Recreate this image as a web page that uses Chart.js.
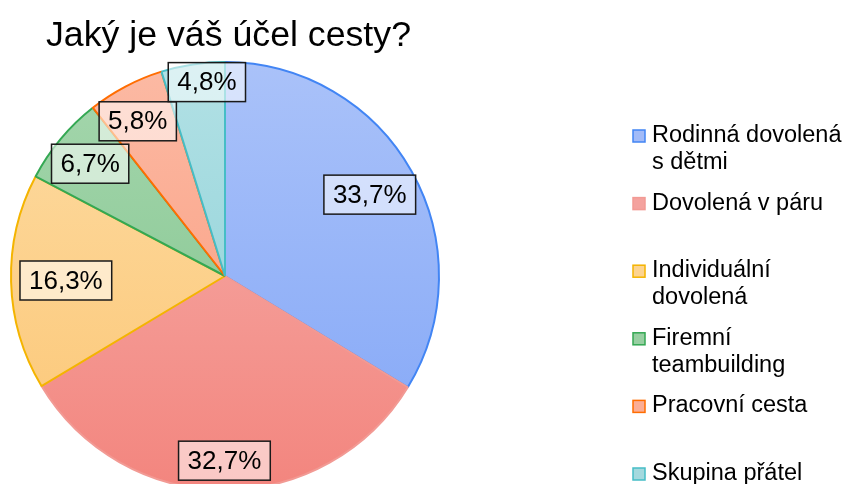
<!DOCTYPE html>
<html>
<head>
<meta charset="utf-8">
<title>Jaký je váš účel cesty?</title>
<script src="https://cdn.jsdelivr.net/npm/chart.js@4/dist/chart.umd.min.js"></script>
<style>
    html, body { margin: 0; padding: 0; background: #fff; overflow: hidden; }
    #wrap { width: 846px; height: 484px; overflow: hidden; position: relative; }
    canvas { display: block; }
</style>
</head>
<body>
<div id="wrap"><canvas id="purpose-chart" width="846" height="560"></canvas></div>
<script>
(function () {
    'use strict';

    var chartTitle = 'Jaký je váš účel cesty?';
    var categories = [
        'Rodinná dovolená s dětmi',
        'Dovolená v páru',
        'Individuální dovolená',
        'Firemní teambuilding',
        'Pracovní cesta',
        'Skupina přátel'
    ];
    var shares = [33.7, 32.7, 16.3, 6.7, 5.8, 4.8];

    var FONT = '"Liberation Sans", Arial, sans-serif';

    // top / bottom colours of the vertical fill gradient, plus the edge colour
    var fillTop = ['#aac2f9', '#f6b2ae', '#fddca4', '#a6d7ae', '#fcbaa4', '#b2e1e5'];
    var fillBottom = ['#82a6f7', '#f3857e', '#fcc674', '#7ec28a', '#f9987a', '#88ced5'];
    var edgeColors = ['#4285f4', '#f29a94', '#f4b400', '#34a853', '#ff6d01', '#46bdc6'];
    var markerFill = ['#a2bbf8', '#f4a29e', '#fdd490', '#98cfa2', '#fbae96', '#a4d9de'];

    function pieFill(context) {
        var chart = context.chart;
        var area = chart.chartArea;
        if (!area) {
            return fillTop[context.dataIndex];
        }
        var g = chart.ctx.createLinearGradient(0, area.top, 0, area.bottom);
        g.addColorStop(0, fillTop[context.dataIndex]);
        g.addColorStop(1, fillBottom[context.dataIndex]);
        return g;
    }

    function formatShare(v) {
        return v.toFixed(1).replace('.', ',') + '%';
    }

    function wrapText(ctx, text, maxWidth) {
        var words = text.split(' ');
        var lines = [];
        var line = '';
        words.forEach(function (w) {
            var test = line ? line + ' ' + w : w;
            if (line && ctx.measureText(test).width > maxWidth) {
                lines.push(line);
                line = w;
            } else {
                line = test;
            }
        });
        if (line) {
            lines.push(line);
        }
        return lines;
    }

    var titlePlugin = {
        id: 'pieTitle',
        afterDraw: function (chart, args, opts) {
            var ctx = chart.ctx;
            ctx.save();
            ctx.font = opts.size + 'px ' + FONT;
            ctx.fillStyle = '#000';
            ctx.textAlign = 'center';
            ctx.textBaseline = 'alphabetic';
            ctx.fillText(opts.text, opts.x, opts.y);
            ctx.restore();
        }
    };

    var boxLabels = {
        id: 'boxLabels',
        afterDatasetsDraw: function (chart, args, opts) {
            var ctx = chart.ctx;
            var meta = chart.getDatasetMeta(0);
            var values = chart.data.datasets[0].data;
            ctx.save();
            ctx.font = opts.size + 'px ' + FONT;
            ctx.textAlign = 'center';
            ctx.textBaseline = 'middle';
            meta.data.forEach(function (arc, i) {
                var p = arc.getProps(['x', 'y', 'startAngle', 'endAngle', 'outerRadius'], true);
                var mid = (p.startAngle + p.endAngle) / 2 + opts.shift[i] * Math.PI / 180;
                var r = p.outerRadius * opts.radius[i];
                var cx = p.x + Math.cos(mid) * r;
                var cy = p.y + Math.sin(mid) * r;
                var txt = formatShare(values[i]);
                var w = ctx.measureText(txt).width + 2 * opts.padX;
                var h = opts.boxHeight;
                ctx.fillStyle = 'rgba(255,255,255,0.55)';
                ctx.fillRect(cx - w / 2, cy - h / 2, w, h);
                ctx.lineWidth = 1.5;
                ctx.strokeStyle = '#1a1a1a';
                ctx.strokeRect(cx - w / 2, cy - h / 2, w, h);
                ctx.fillStyle = '#000';
                ctx.fillText(txt, cx, cy + 1);
            });
            ctx.restore();
        }
    };

    var sideLegend = {
        id: 'sideLegend',
        afterDraw: function (chart, args, opts) {
            var ctx = chart.ctx;
            ctx.save();
            ctx.font = opts.size + 'px ' + FONT;
            ctx.textAlign = 'left';
            ctx.textBaseline = 'alphabetic';
            chart.data.labels.forEach(function (label, i) {
                var base = opts.top + i * opts.step;
                ctx.fillStyle = markerFill[i];
                ctx.fillRect(opts.x, base - 12, 12, 12);
                ctx.lineWidth = 1.5;
                ctx.strokeStyle = edgeColors[i];
                ctx.strokeRect(opts.x, base - 12, 12, 12);
                ctx.fillStyle = '#000';
                wrapText(ctx, label, opts.maxWidth).forEach(function (line, k) {
                    ctx.fillText(line, opts.textX, base + k * opts.lineHeight);
                });
            });
            ctx.restore();
        }
    };

    var ctx = document.getElementById('purpose-chart').getContext('2d');
    window.purposeChart = new Chart(ctx, {
        type: 'pie',
        data: {
            labels: categories,
            datasets: [
                {
                    data: shares,
                    backgroundColor: pieFill,
                    borderColor: edgeColors,
                    borderWidth: 2
                }
            ]
        },
        options: {
            responsive: false,
            animation: false,
            events: [],
            layout: {
                padding: { left: 10, top: 61, right: 406, bottom: 69 }
            },
            plugins: {
                legend: { display: false },
                tooltip: { enabled: false },
                pieTitle: { text: chartTitle, size: 35.7, x: 228.5, y: 46 },
                boxLabels: {
                    size: 26,
                    padX: 9,
                    boxHeight: 39,
                    radius: [0.776, 0.863, 0.744, 0.82, 0.83, 0.91],
                    shift: [0, 0, 0, 0, -1.7, 3.3]
                },
                sideLegend: {
                    size: 23.5,
                    x: 633,
                    textX: 652,
                    top: 142,
                    step: 67.6,
                    lineHeight: 27,
                    maxWidth: 194
                }
            }
        },
        plugins: [titlePlugin, boxLabels, sideLegend]
    });
})();
</script>
</body>
</html>
